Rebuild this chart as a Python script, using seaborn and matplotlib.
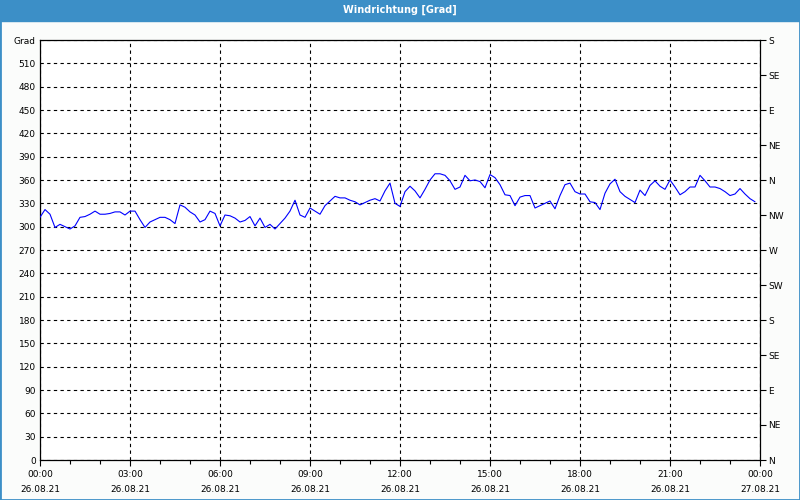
import numpy as np
import pandas as pd
import matplotlib
matplotlib.use("Agg")
import matplotlib.pyplot as plt
import matplotlib.dates as mdates
import seaborn as sns
from matplotlib.patches import Rectangle

# ---------------- data ----------------
title = "Windrichtung [Grad]"
y_unit = "Grad"
start_time = "2021-08-26 00:00"
end_time = "2021-08-27 00:00"
sample_step = "10min"

direction = [
    312, 322, 316, 299, 303, 300, 297, 301, 312, 313, 316, 320,
    316, 316, 317, 319, 319, 315, 320, 320, 309, 299, 306, 309,
    312, 312, 309, 304, 328, 325, 319, 315, 306, 309, 320, 317,
    301, 315, 314, 311, 306, 308, 313, 301, 311, 299, 303, 297,
    304, 311, 320, 334, 315, 312, 324, 320, 316, 327, 333, 339,
    337, 337, 334, 332, 328, 331, 334, 336, 333, 346, 356, 330,
    326, 345, 352, 346, 337, 348, 360, 368, 368, 366, 359, 348,
    351, 366, 359, 360, 358, 350, 367, 363, 354, 341, 340, 327,
    338, 340, 340, 324, 327, 330, 333, 323, 340, 354, 356, 345,
    342, 342, 332, 331, 322, 343, 355, 361, 345, 339, 335, 331,
    347, 340, 353, 359, 352, 348, 360, 351, 341, 345, 351, 351,
    366, 359, 351, 351, 349, 345, 340, 342, 349, 342, 336, 332,
]

y_ticks = list(range(0, 541, 30))
y_labels = [str(v) for v in y_ticks[:-1]] + [y_unit]
compass_ticks = list(range(0, 541, 45))
compass_labels = ["N", "NE", "E", "SE", "S", "SW", "W", "NW",
                  "N", "NE", "E", "SE", "S"]

# ---------------- style ----------------
sns.set_style("white")
plt.rcParams["font.family"] = ["DejaVu Sans"]
blue_frame = "#3c8fc7"

fig = plt.figure(figsize=(8, 5), dpi=100, facecolor="#fbfcfb")
ax = fig.add_axes([40 / 800, 40 / 500, 720 / 800, 420 / 500])
ax.set_facecolor("white")

df = pd.DataFrame({
    "time": pd.date_range(start_time, periods=len(direction), freq=sample_step),
    "dir": direction,
})
sns.lineplot(data=df, x="time", y="dir", ax=ax, color="#0000ff",
             linewidth=0.8, zorder=3)

ax.set_xlim(pd.Timestamp(start_time), pd.Timestamp(end_time))
ax.set_ylim(0, 540)
ax.set_xlabel("")
ax.set_ylabel("")

ax.set_yticks(y_ticks)
ax.set_yticklabels(y_labels)
ax.tick_params(axis="y", left=True, length=0, pad=3, labelsize=6.5,
               colors="black")

ax.xaxis.set_major_locator(mdates.HourLocator(byhour=range(0, 24, 3)))
ax.xaxis.set_minor_locator(mdates.HourLocator())
ax.xaxis.set_major_formatter(mdates.DateFormatter("%H:%M\n%d.%m.%y"))
ax.tick_params(axis="x", which="major", bottom=True, direction="out",
               length=4, width=0.8, pad=3.5, labelsize=6.5, colors="black")
ax.tick_params(axis="x", which="minor", bottom=True, direction="out",
               length=3, width=0.8, colors="black")
for lbl in ax.get_xticklabels():
    lbl.set_linespacing(1.75)
    lbl.set_horizontalalignment("center")

ax.grid(True, which="major", color="black", linestyle=(0, (3, 3)),
        linewidth=0.8)
for s in ax.spines.values():
    s.set_visible(True)
    s.set_color("black")
    s.set_linewidth(0.9)

ax2 = ax.twinx()
ax2.set_ylim(0, 540)
ax2.set_yticks(compass_ticks)
ax2.set_yticklabels(compass_labels)
ax2.tick_params(axis="y", right=True, direction="out", length=4,
                width=0.8, pad=2, labelsize=6.5, colors="black")
ax2.grid(False)
for s in ax2.spines.values():
    s.set_visible(False)

# title bar and frame
fig.patches.append(Rectangle((0, 1 - 21 / 500), 1, 21 / 500,
                             transform=fig.transFigure, color=blue_frame,
                             zorder=0))
fig.patches.append(Rectangle((0, 0), 1, 1, transform=fig.transFigure,
                             fill=False, edgecolor=blue_frame, linewidth=2,
                             zorder=0))
fig.text(0.5, 1 - 10 / 500, title, ha="center", va="center",
         color="white", fontsize=7, fontweight="bold")

fig.savefig("out.png", dpi=100, facecolor=fig.get_facecolor())
